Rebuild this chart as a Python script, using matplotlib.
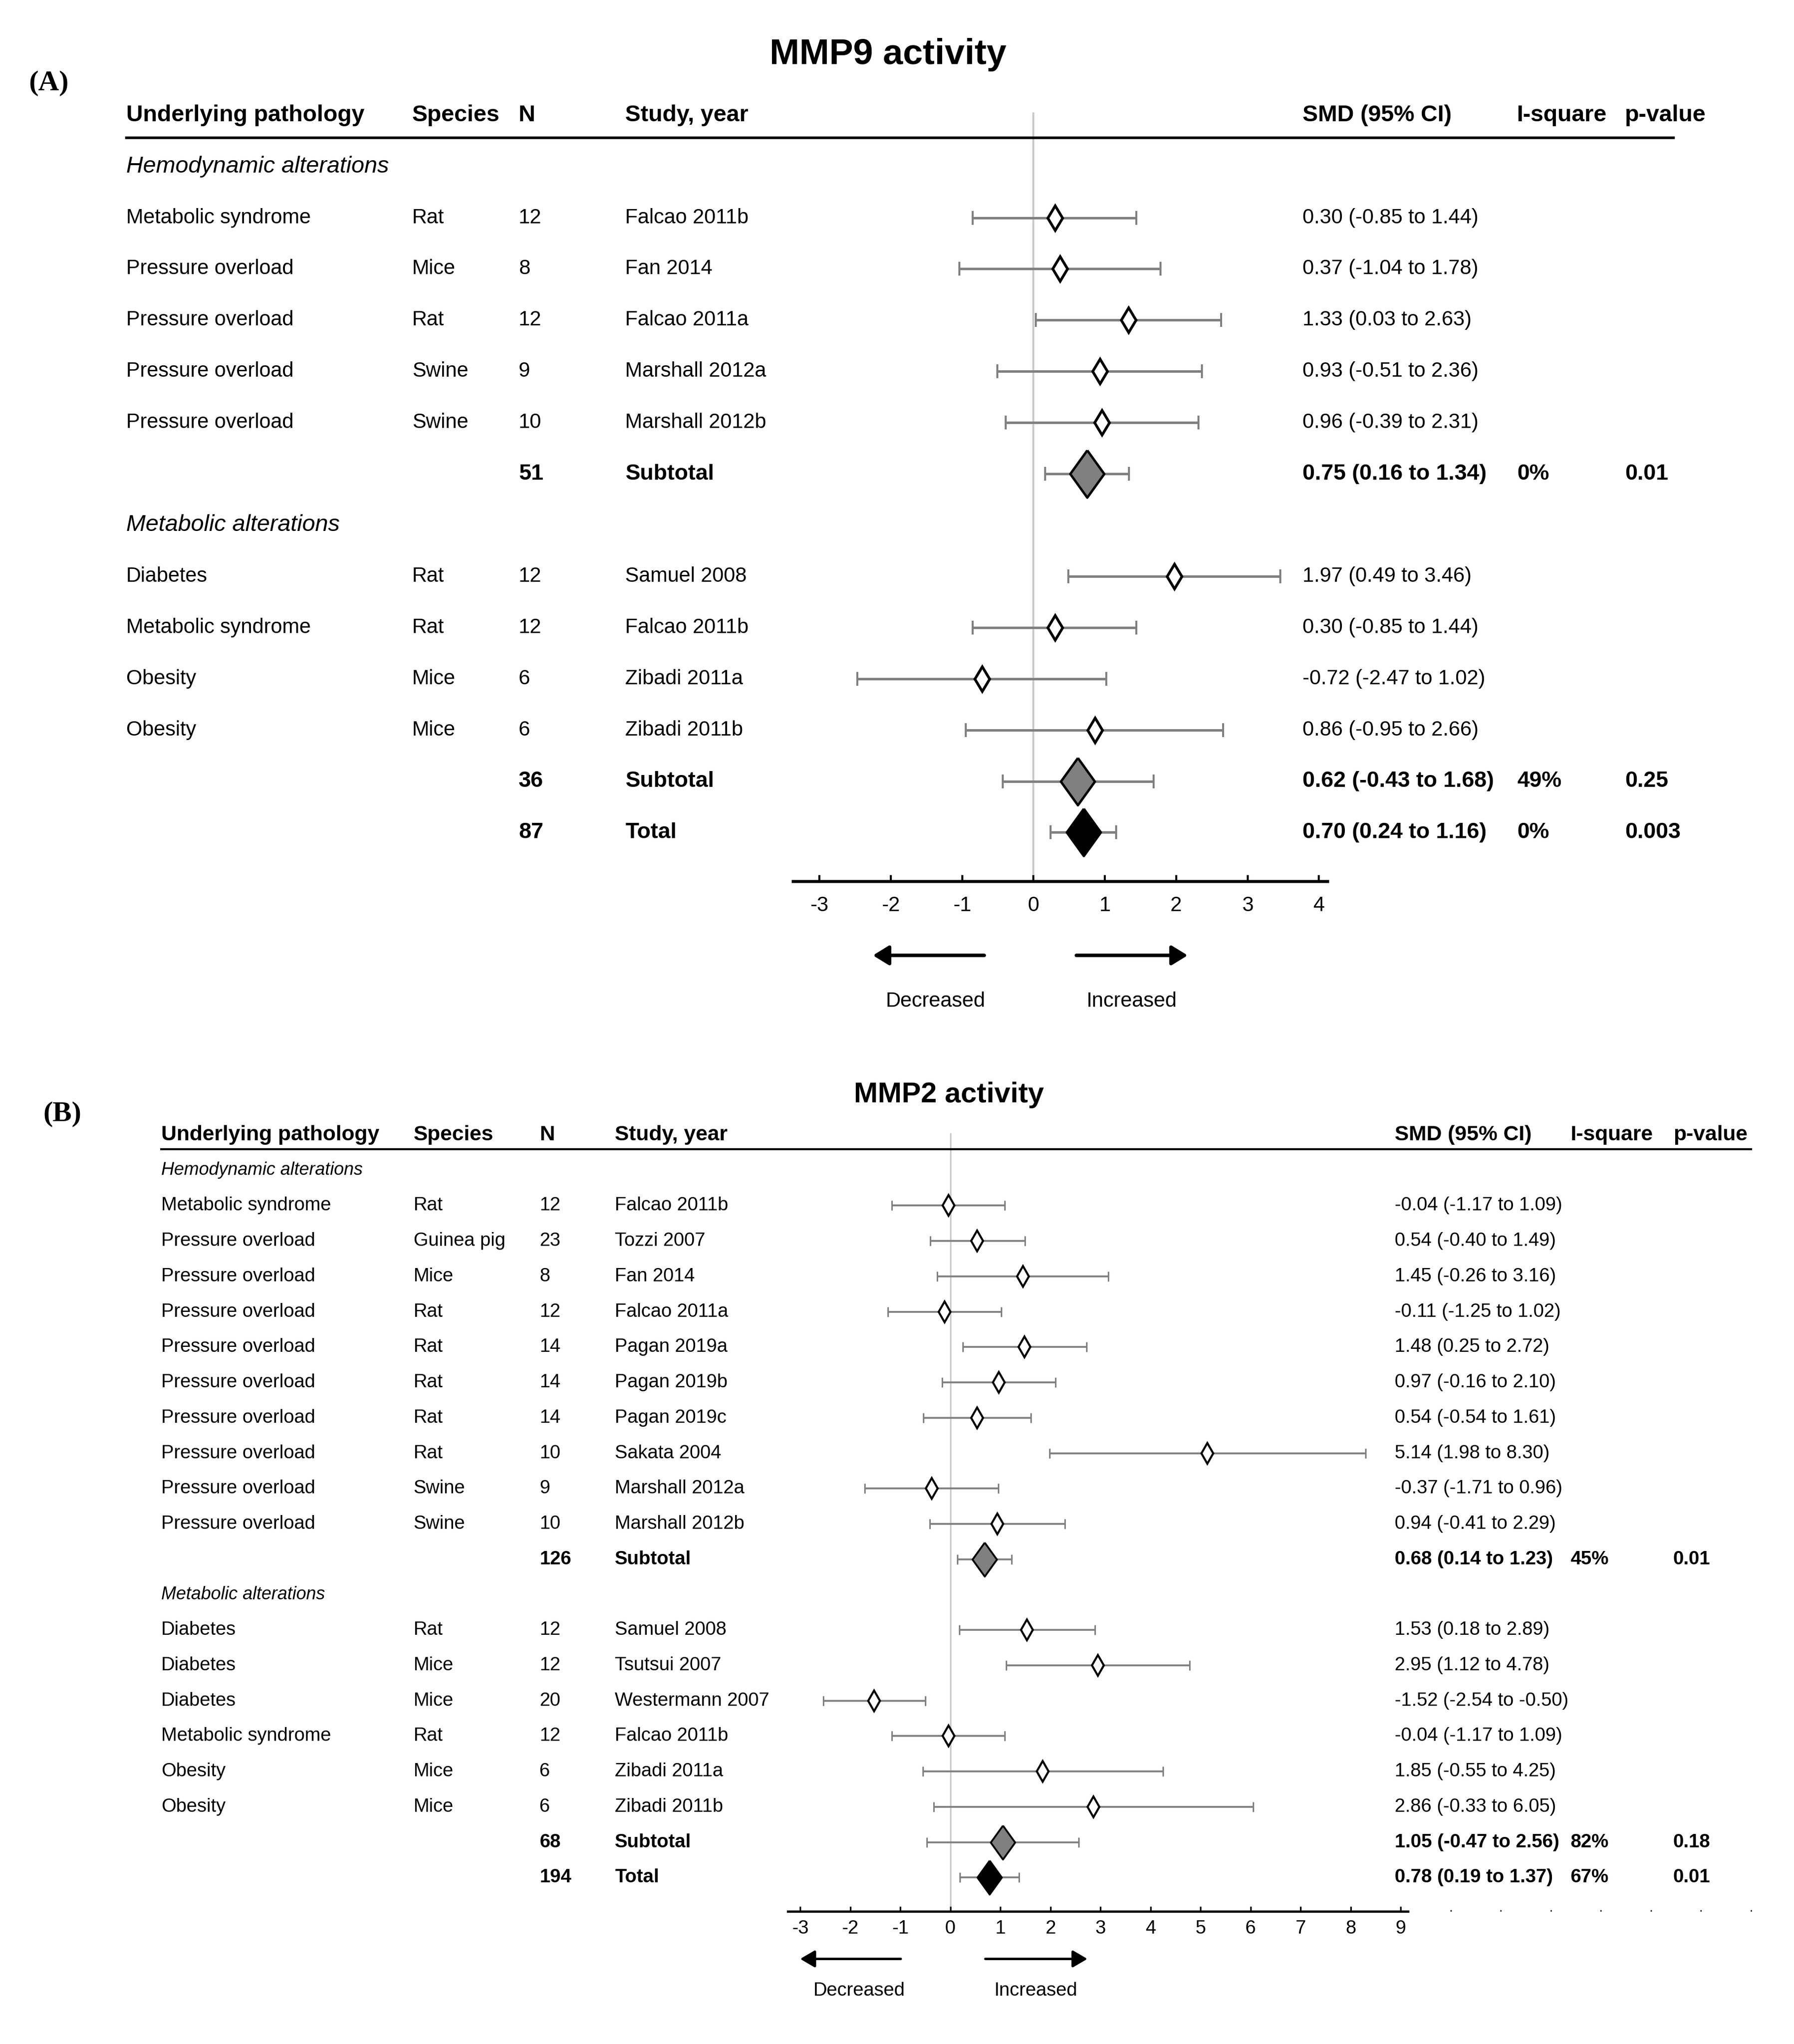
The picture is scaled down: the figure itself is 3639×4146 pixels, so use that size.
import matplotlib
matplotlib.use('Agg')
from matplotlib import pyplot as plt

plt.rcParams['axes.unicode_minus'] = False

# ---- panel A: MMP9 activity ----
A_kind = ['group', 'study', 'study', 'study', 'study', 'study', 'sub',
          'group', 'study', 'study', 'study', 'study', 'sub', 'total']
A_pathology = ['Hemodynamic alterations', 'Metabolic syndrome', 'Pressure overload', 'Pressure overload',
               'Pressure overload', 'Pressure overload', '',
               'Metabolic alterations', 'Diabetes', 'Metabolic syndrome', 'Obesity', 'Obesity', '', '']
A_species = ['', 'Rat', 'Mice', 'Rat', 'Swine', 'Swine', '', '', 'Rat', 'Rat', 'Mice', 'Mice', '', '']
A_n = ['', '12', '8', '12', '9', '10', '51', '', '12', '12', '6', '6', '36', '87']
A_study = ['', 'Falcao 2011b', 'Fan 2014', 'Falcao 2011a', 'Marshall 2012a', 'Marshall 2012b', 'Subtotal',
           '', 'Samuel 2008', 'Falcao 2011b', 'Zibadi 2011a', 'Zibadi 2011b', 'Subtotal', 'Total']
A_smd = [None, 0.30, 0.37, 1.33, 0.93, 0.96, 0.75, None, 1.97, 0.30, -0.72, 0.86, 0.62, 0.70]
A_lo = [None, -0.85, -1.04, 0.03, -0.51, -0.39, 0.16, None, 0.49, -0.85, -2.47, -0.95, -0.43, 0.24]
A_hi = [None, 1.44, 1.78, 2.63, 2.36, 2.31, 1.34, None, 3.46, 1.44, 1.02, 2.66, 1.68, 1.16]
A_isq = ['', '', '', '', '', '', '0%', '', '', '', '', '', '49%', '0%']
A_p = ['', '', '', '', '', '', '0.01', '', '', '', '', '', '0.25', '0.003']
A_ticks = [-3, -2, -1, 0, 1, 2, 3, 4]

# ---- panel B: MMP2 activity ----
B_kind = ['group'] + ['study'] * 10 + ['sub', 'group'] + ['study'] * 6 + ['sub', 'total']
B_pathology = ['Hemodynamic alterations', 'Metabolic syndrome'] + ['Pressure overload'] * 9 + [
    '', 'Metabolic alterations', 'Diabetes', 'Diabetes', 'Diabetes', 'Metabolic syndrome',
    'Obesity', 'Obesity', '', '']
B_species = ['', 'Rat', 'Guinea pig', 'Mice', 'Rat', 'Rat', 'Rat', 'Rat', 'Rat', 'Swine', 'Swine', '',
             '', 'Rat', 'Mice', 'Mice', 'Rat', 'Mice', 'Mice', '', '']
B_n = ['', '12', '23', '8', '12', '14', '14', '14', '10', '9', '10', '126',
       '', '12', '12', '20', '12', '6', '6', '68', '194']
B_study = ['', 'Falcao 2011b', 'Tozzi 2007', 'Fan 2014', 'Falcao 2011a', 'Pagan 2019a', 'Pagan 2019b',
           'Pagan 2019c', 'Sakata 2004', 'Marshall 2012a', 'Marshall 2012b', 'Subtotal',
           '', 'Samuel 2008', 'Tsutsui 2007', 'Westermann 2007', 'Falcao 2011b', 'Zibadi 2011a',
           'Zibadi 2011b', 'Subtotal', 'Total']
B_smd = [None, -0.04, 0.54, 1.45, -0.11, 1.48, 0.97, 0.54, 5.14, -0.37, 0.94, 0.68,
         None, 1.53, 2.95, -1.52, -0.04, 1.85, 2.86, 1.05, 0.78]
B_lo = [None, -1.17, -0.40, -0.26, -1.25, 0.25, -0.16, -0.54, 1.98, -1.71, -0.41, 0.14,
        None, 0.18, 1.12, -2.54, -1.17, -0.55, -0.33, -0.47, 0.19]
B_hi = [None, 1.09, 1.49, 3.16, 1.02, 2.72, 2.10, 1.61, 8.30, 0.96, 2.29, 1.23,
        None, 2.89, 4.78, -0.50, 1.09, 4.25, 6.05, 2.56, 1.37]
B_isq = [''] * 11 + ['45%'] + [''] * 7 + ['82%', '67%']
B_p = [''] * 11 + ['0.01'] + [''] * 7 + ['0.18', '0.01']
B_ticks = [-3, -2, -1, 0, 1, 2, 3, 4, 5, 6, 7, 8, 9]
B_faint_ticks = [10, 11, 12, 13, 14, 15, 16]

headers = ['Underlying pathology', 'Species', 'N', 'Study, year', 'SMD (95% CI)', 'I-square', 'p-value']

fig = plt.figure(figsize=(3639 / 300, 4146 / 300), dpi=300)
rend = fig.canvas.get_renderer()
FAM = ['Liberation Sans', 'DejaVu Sans']


def fit(s, target, size, weight='normal', style='normal', lo=0.85, hi=1.0):
    # scale the font size so the sample string gets about the reference width
    t = fig.text(0, 0, s, family=FAM, fontsize=size, fontweight=weight, fontstyle=style)
    w = t.get_window_extent(renderer=rend).width
    t.remove()
    sc = max(lo, min(hi, target / w))
    return dict(family=FAM, fontsize=size * sc, fontweight=weight, fontstyle=style)


fonts_A = dict(reg=fit('Metabolic syndrome', 375, 11.8),
               head=fit('Underlying pathology', 483, 11.8, weight='bold'),
               bold=fit('0.75 (0.16 to 1.34)', 353, 11.8, weight='bold', lo=0.92),
               ital=fit('Hemodynamic alterations', 533, 11.8, style='italic'),
               title=fit('MMP9 activity', 435, 20.5, weight='bold'))
fonts_B = dict(reg=fit('Metabolic syndrome', 345, 8.4, hi=1.2),
               head=fit('Underlying pathology', 443, 8.4, weight='bold', hi=1.25),
               bold=fit('0.68 (0.14 to 1.23)', 322, 8.4, weight='bold', hi=1.2),
               ital=fit('Hemodynamic alterations', 409, 8.4, style='italic', hi=1.2),
               title=fit('MMP2 activity', 385, 15, weight='bold', lo=0.8, hi=1.1))

# layout in pixels of a 1380 x 1572 frame
W, H = 1380.0, 1572.0
lay_A = dict(top=0, bottom=790, zero=795, unit=54.9, row0=128, rowh=39.4,
             cols=[97, 317, 399, 481, 1002, 1167, 1250], line=(97, 1287), line_row=-0.56,
             axis_row=13.96, bounds=(-3.37, 4.12), F=fonts_A,
             title='MMP9 activity', title_x=683, title_row=-2.18,
             ci_lw=1.2, cap=3.4, mk=8.5, mk_lw=1.3, big=23, tick_len=3.2, tick_w=1.0, spine_lw=1.5,
             pad=7, arrow_row=15.4, arrows=((-0.69, -2.25), (0.6, 2.16)), arrow_lw=1.7,
             arrow_head='-|>,head_length=0.65,head_width=0.4', lab_row=16.3, lab_x=(-1.37, 1.37),
             ref_lw=0.9, head_lw=1.3)
lay_B = dict(top=800, bottom=1572, zero=731, unit=38.5, row0=900, rowh=27.2,
             cols=[124, 318, 415, 473, 1073, 1208, 1287], line=(124, 1347), line_row=-0.59,
             axis_row=20.96, bounds=(-3.25, 9.14), F=fonts_B,
             title='MMP2 activity', title_x=730, title_row=-2.13,
             ci_lw=0.9, cap=2.4, mk=7, mk_lw=1.0, big=16.5, tick_len=2.4, tick_w=0.8, spine_lw=1.1,
             pad=4, arrow_row=22.3, arrows=((-0.99, -3.0), (0.70, 2.74)), arrow_lw=1.2,
             arrow_head='-|>,head_length=0.6,head_width=0.35', lab_row=23.2, lab_x=(-1.82, 1.71),
             ref_lw=0.7, head_lw=1.0)

diamond = [(0, 1), (0.72, 0), (0, -1), (-0.72, 0), (0, 1)]


def draw_panel(L, kind, path, spec, n, study, smd, lo, hi, isq, p, ticks, faint=None):
    ax = fig.add_axes([0, 1 - L['bottom'] / H, 1, (L['bottom'] - L['top']) / H])
    ax.set_xlim(-L['zero'] / L['unit'], (W - L['zero']) / L['unit'])
    ax.set_ylim((L['bottom'] - L['row0']) / L['rowh'], (L['top'] - L['row0']) / L['rowh'])
    tr = ax.get_yaxis_transform()
    cx = [c / W for c in L['cols']]
    F = L['F']
    base = dict(transform=tr, va='center', ha='left')

    ax.text(L['title_x'] / W, L['title_row'], L['title'], transform=tr, ha='center', va='center',
            **F['title'])
    for x, h in zip(cx, headers):
        ax.text(x, -1, h, **base, **F['head'])
    ax.plot([L['line'][0] / W, L['line'][1] / W], [L['line_row']] * 2, color='black',
            lw=L['head_lw'], transform=tr, clip_on=False)
    ax.vlines(0, -1.05, L['axis_row'], color='#c8c8c8', lw=L['ref_lw'], zorder=1)

    for i, k in enumerate(kind):
        if k == 'group':
            ax.text(cx[0], i, path[i], **base, **F['ital'])
            continue
        fw = F['reg'] if k == 'study' else F['bold']
        ax.text(cx[0], i, path[i], **base, **F['reg'])
        ax.text(cx[1], i, spec[i], **base, **F['reg'])
        ax.text(cx[2], i, n[i], **base, **fw)
        ax.text(cx[3], i, study[i], **base, **fw)
        ax.text(cx[4], i, '%.2f (%.2f to %.2f)' % (smd[i], lo[i], hi[i]), **base, **fw)
        ax.text(cx[5], i, isq[i], **base, **fw)
        ax.text(cx[6], i, p[i], **base, **fw)

        ax.errorbar(smd[i], i, xerr=[[smd[i] - lo[i]], [hi[i] - smd[i]]], fmt='none',
                    ecolor='#808080', elinewidth=L['ci_lw'], capsize=L['cap'],
                    capthick=L['ci_lw'] * 0.8, zorder=2)
        if k == 'study':
            ax.plot(smd[i], i, marker='d', ms=L['mk'], mfc='white', mec='black',
                    mew=L['mk_lw'], zorder=3)
        else:
            ax.plot(smd[i], i, marker=diamond, ms=L['big'],
                    mfc='#808080' if k == 'sub' else 'black', mec='black',
                    mew=L['mk_lw'] * 0.9, zorder=3)

    # x axis
    for s in ['top', 'left', 'right']:
        ax.spines[s].set_visible(False)
    ax.spines['bottom'].set_position(('data', L['axis_row']))
    ax.spines['bottom'].set_bounds(*L['bounds'])
    ax.spines['bottom'].set_linewidth(L['spine_lw'])
    ax.set_yticks([])
    ax.set_xticks(ticks)
    ax.set_xticklabels([str(t) for t in ticks], **F['reg'])
    ax.tick_params(axis='x', which='major', direction='in', length=L['tick_len'],
                   width=L['tick_w'], pad=L['pad'])
    if faint:
        ax.set_xticks(faint, minor=True)
        ax.tick_params(axis='x', which='minor', direction='in', length=0.8, width=0.6)

    for (tail, tip), lx, lab in zip(L['arrows'], L['lab_x'], ['Decreased', 'Increased']):
        ax.annotate('', xy=(tip, L['arrow_row']), xytext=(tail, L['arrow_row']),
                    arrowprops=dict(arrowstyle=L['arrow_head'], lw=L['arrow_lw'], color='black',
                                    shrinkA=0, shrinkB=0, mutation_scale=10))
        ax.text(lx, L['lab_row'], lab, ha='center', va='center', **F['reg'])
    return ax


draw_panel(lay_A, A_kind, A_pathology, A_species, A_n, A_study, A_smd, A_lo, A_hi, A_isq, A_p, A_ticks)
draw_panel(lay_B, B_kind, B_pathology, B_species, B_n, B_study, B_smd, B_lo, B_hi, B_isq, B_p,
           B_ticks, B_faint_ticks)

fig.text(22 / W, 1 - 64 / H, '(A)', ha='left', va='center', fontsize=14, fontweight='bold',
         family=['Liberation Serif', 'DejaVu Serif'])
fig.text(33 / W, 1 - 857 / H, '(B)', ha='left', va='center', fontsize=14, fontweight='bold',
         family=['Liberation Serif', 'DejaVu Serif'])

fig.savefig('out.png', dpi=300)
